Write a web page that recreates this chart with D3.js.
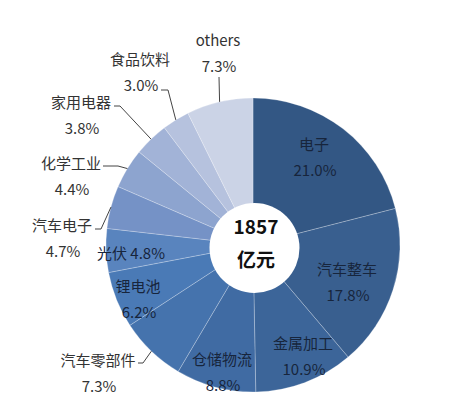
<!DOCTYPE html>
<html>
<head>
<meta charset="utf-8">
<script src="https://cdn.jsdelivr.net/npm/d3@7"></script>
<style>
  body { margin: 0; background: #fff; }
  text { font-family: "Noto Sans CJK SC", "Noto Sans", sans-serif; }
</style>
</head>
<body>
<div id="chart"></div>
<script>
// data
var categories = ['电子', '汽车整车', '金属加工', '仓储物流', '汽车零部件', '锂电池', '光伏', '汽车电子', '化学工业', '家用电器', '食品饮料', 'others'];
var shares = [21.0, 17.8, 10.9, 8.8, 7.3, 6.2, 4.8, 4.7, 4.4, 3.8, 3.0, 7.3];
var totalLabel = ['1857', '亿元'];

var colors = ['#335784', '#395f8f', '#3c6599', '#406ba3', '#4573ad', '#4a7ab6', '#5984be', '#7592c6', '#8da4cf', '#a2b3d7', '#b6c2de', '#cbd3e6'];

// label placement (text centre of first line, leader elbow)
var labelLayout = {
    '电子':     {x: 314, y: 143, inside: true},
    '汽车整车': {x: 347, y: 268, inside: true},
    '金属加工': {x: 303, y: 342, inside: true},
    '仓储物流': {x: 222, y: 358, inside: true},
    '锂电池':   {x: 138, y: 285, inside: true},
    '光伏':     {x: 131, y: 252, inside: true, oneLine: true},
    '汽车零部件': {x: 98, y: 359, elbow: [143, 363], end: [138, 363]},
    '汽车电子': {x: 62, y: 224, elbow: [101, 229], end: [95, 229]},
    '化学工业': {x: 71, y: 162, elbow: [118, 166], end: [103, 166]},
    '家用电器': {x: 81, y: 101, elbow: [120, 106], end: [114, 106]},
    '食品饮料': {x: 140, y: 58, elbow: [168, 90], end: [161, 90]},
    'others':   {x: 218, y: 39, elbow: null, end: [219, 77]}
};

var W = 451, H = 410;
var cx = 253, cy = 245, R = 147, holeR = 45;

var svg = d3.select('#chart').append('svg')
    .attr('width', W)
    .attr('height', H);

var data = categories.map(function(c, i){ return {name: c, value: shares[i], color: colors[i]}; });

var pie = d3.pie().sort(null).value(function(d){ return d.value; });
var arcs = pie(data);
var arc = d3.arc().innerRadius(0).outerRadius(R);

var g = svg.append('g').attr('transform', 'translate(' + cx + ',' + cy + ')');

g.selectAll('path.slice')
    .data(arcs)
    .enter()
    .append('path')
    .attr('class', 'slice')
    .attr('d', arc)
    .attr('fill', function(d){ return d.data.color; })
    .attr('stroke', 'rgba(255,255,255,0.35)')
    .attr('stroke-width', 0.7);

// white hole in the middle
svg.append('circle')
    .attr('cx', cx + 1.5)
    .attr('cy', cy + 3)
    .attr('r', holeR)
    .attr('fill', '#fff');

svg.append('text')
    .attr('x', cx + 3).attr('y', cy - 20)
    .attr('text-anchor', 'middle').attr('dominant-baseline', 'central')
    .attr('font-size', 19).attr('font-weight', 'bold').attr('fill', '#111')
    .text(totalLabel[0]);
svg.append('text')
    .attr('x', cx + 3).attr('y', cy + 13)
    .attr('text-anchor', 'middle').attr('dominant-baseline', 'central')
    .attr('font-size', 19).attr('font-weight', 'bold').attr('fill', '#111')
    .text(totalLabel[1]);

// labels + leader lines
arcs.forEach(function(a){
    var lay = labelLayout[a.data.name];
    var pct = a.data.value.toFixed(1) + '%';
    var fill = lay.inside ? '#17253c' : '#333';

    if (lay.oneLine) {
        svg.append('text')
            .attr('x', lay.x).attr('y', lay.y)
            .attr('text-anchor', 'middle').attr('dominant-baseline', 'central')
            .attr('font-size', 15).attr('fill', fill)
            .text(a.data.name + ' ' + pct);
    } else {
        svg.append('text')
            .attr('x', lay.x).attr('y', lay.y)
            .attr('text-anchor', 'middle').attr('dominant-baseline', 'central')
            .attr('font-size', 15).attr('fill', fill)
            .text(a.data.name);
        svg.append('text')
            .attr('x', lay.x + 1).attr('y', lay.y + 26)
            .attr('text-anchor', 'middle').attr('dominant-baseline', 'central')
            .attr('font-size', 15).attr('fill', fill)
            .text(pct);
    }

    if (!lay.inside) {
        var mid = (a.startAngle + a.endAngle) / 2;
        var p0 = [cx + R * Math.sin(mid), cy - R * Math.cos(mid)];
        var pts = [p0];
        if (lay.elbow) pts.push(lay.elbow);
        pts.push(lay.end);
        svg.append('path')
            .attr('d', d3.line()(pts))
            .attr('fill', 'none')
            .attr('stroke', '#444')
            .attr('stroke-width', 1);
    }
});
</script>
</body>
</html>
